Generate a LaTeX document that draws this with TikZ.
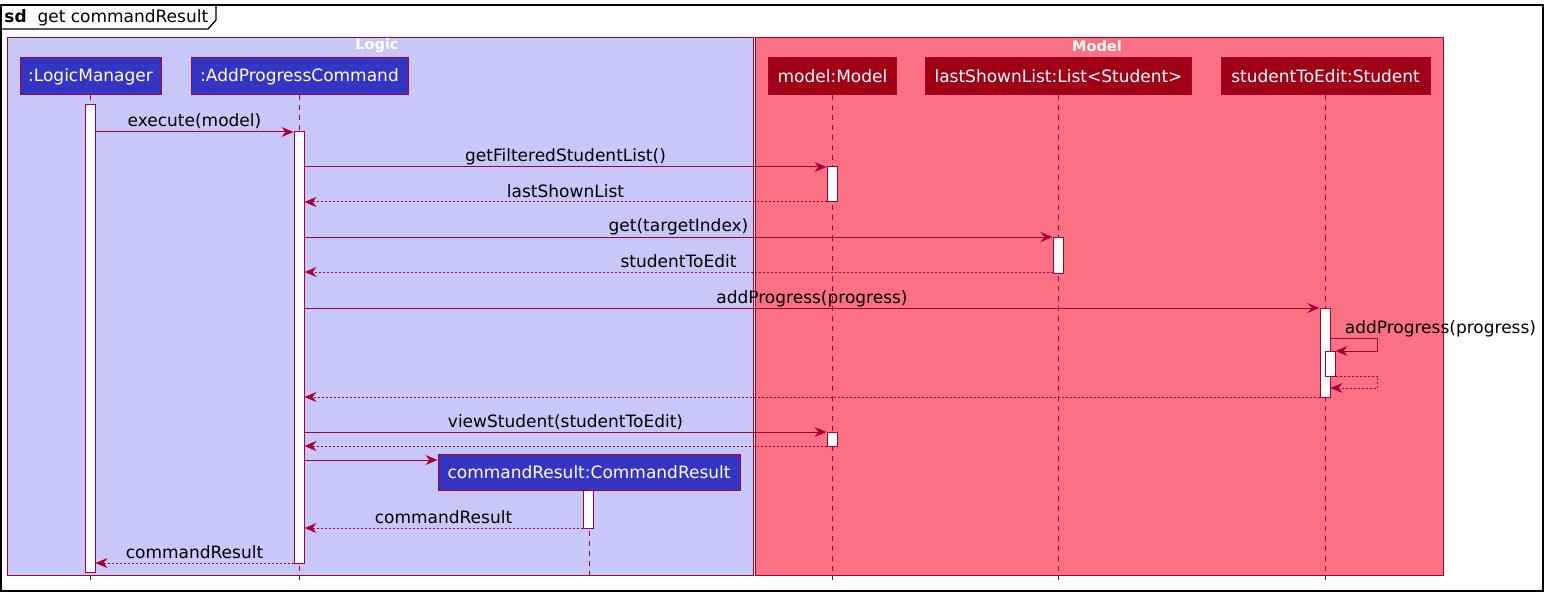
\documentclass[tikz,border=0pt]{standalone}
\usepackage{fontspec}
\setmainfont{DejaVu Sans}
\usetikzlibrary{arrows.meta,positioning}
\definecolor{umlred}{HTML}{A80036}
\definecolor{logicbg}{HTML}{C8C8F8}
\definecolor{modelbg}{HTML}{FA7183}
\definecolor{logicfg}{HTML}{3535C4}
\definecolor{modelfg}{HTML}{A00016}

\begin{document}
\begin{tikzpicture}[x=1pt, y=-1pt, line width=1pt,
  font=\fontsize{17}{20}\selectfont,
  part/.style={draw=umlred, text=white, minimum height=37pt, inner sep=0pt},
  act/.style={draw=umlred, fill=white, minimum width=10pt, inner sep=0pt},
  life/.style={umlred, dash pattern=on 5pt off 5pt},
  msg/.style={umlred, -{Stealth[length=12pt,width=10pt,inset=4pt]}},
  ret/.style={msg, dash pattern=on 2pt off 2pt},
  lbl/.style={anchor=base, yshift=5pt, text=black},
  box/.style={draw=umlred, line width=0.8pt},
  boxname/.style={text=white, font=\fontsize{14.5}{17}\bfseries}]
  \useasboundingbox (0,0) rectangle (1547,596);
  % frame
  \draw[line width=1.3pt] (1,5) rectangle (1543,591);
  \draw[line width=1.3pt] (1,29) -- (208,29) -- (216,20) -- (216,5);
  \node[anchor=base west, inner sep=0pt, font=\fontsize{17}{20}\bfseries] (sd) at (4,23) {sd};
  \node[anchor=base west, inner sep=0pt] (title) at (37,23) {get\ commandResult};
  % boxes
  \draw[box, fill=logicbg] (7,37) rectangle (753,575);
  \draw[box, fill=modelbg] (755,37) rectangle (1443,575);
  \node[boxname] (logic) at (377,46) {Logic};
  \node[boxname] (model) at (1097,46) {Model};
  % participants
  \node[part, fill=logicfg, minimum width=141pt] (lm) at (90.5,76.5) {:LogicManager};
  \node[part, fill=logicfg, minimum width=217pt] (apc) at (299.5,76.5) {:AddProgressCommand};
  \node[part, fill=modelfg, minimum width=128pt] (mdl) at (832.5,76.5) {model:Model};
  \node[part, fill=modelfg, minimum width=266pt] (lst) at (1058.5,76.5) {lastShownList:List<Student>};
  \node[part, fill=modelfg, minimum width=209pt] (ste) at (1325.5,76.5) {studentToEdit:Student};
  \coordinate (bot) at (0,580);
  \foreach \p in {lm,apc,mdl,lst,ste}
    \draw[life] (\p.south) -- (\p.south |- bot);
  % activations
  \node[act, minimum height=467pt] (lmA) at (90,338.5) {};
  \node[act, minimum height=431pt] (apcA) at (299,347.5) {};
  \node[act, minimum height=35pt] (mdlA) at (832,184.5) {};
  \node[act, minimum height=14pt] (mdlB) at (832,439) {};
  \node[act, minimum height=36pt] (lstA) at (1058,255) {};
  \node[act, minimum height=89pt] (steA) at (1325,352.5) {};
  \node[act, minimum height=25pt] (steB) at (1330,363.5) {};
  % messages
  \draw[msg] (lmA.east |- 0,132) -- node[lbl] {execute(model)} (apcA.west |- 0,132);
  \draw[msg] (apcA.east |- 0,167) -- node[lbl] {getFilteredStudentList()} (mdlA.west |- 0,167);
  \draw[ret] (mdlA.west |- 0,202) -- node[lbl] {lastShownList} (apcA.east |- 0,202);
  \draw[msg] (apcA.east |- 0,237) -- node[lbl] {get(targetIndex)} (lstA.west |- 0,237);
  \draw[ret] (lstA.west |- 0,272) -- node[lbl] {studentToEdit} (apcA.east |- 0,272);
  \draw[msg] (apcA.east |- 0,308) -- node[lbl] {addProgress(progress)} (steA.west |- 0,308);
  \draw[msg] (steA.east |- 0,338) -- ++(47,0) -- ++(0,13) -- (steB.east |- 0,351);
  \node[lbl, anchor=base west] (selfl) at (1341,338) {addProgress(progress)};
  \draw[ret] (steB.east |- 0,376) -- ++(42,0) -- ++(0,12) -- (steA.east |- 0,388);
  \draw[ret] (steA.west |- 0,397) -- (apcA.east |- 0,397);
  \draw[msg] (apcA.east |- 0,432) -- node[lbl] {viewStudent(studentToEdit)} (mdlB.west |- 0,432);
  \draw[ret] (mdlB.west |- 0,446) -- (apcA.east |- 0,446);
  % created object
  \node[part, fill=logicfg, minimum width=302pt, minimum height=36pt] (cr) at (589,472) {commandResult:CommandResult};
  \draw[life] (cr.south) -- (cr.south |- bot);
  \node[act, minimum height=38pt] (crA) at (588,509) {};
  \draw[msg] (apcA.east |- 0,460) -- (cr.west |- 0,460);
  \draw[ret] (crA.west |- 0,528) -- node[lbl] {commandResult} (apcA.east |- 0,528);
  \draw[ret] (apcA.west |- 0,563) -- node[lbl] {commandResult} (lmA.east |- 0,563);
\end{tikzpicture}
\end{document}
